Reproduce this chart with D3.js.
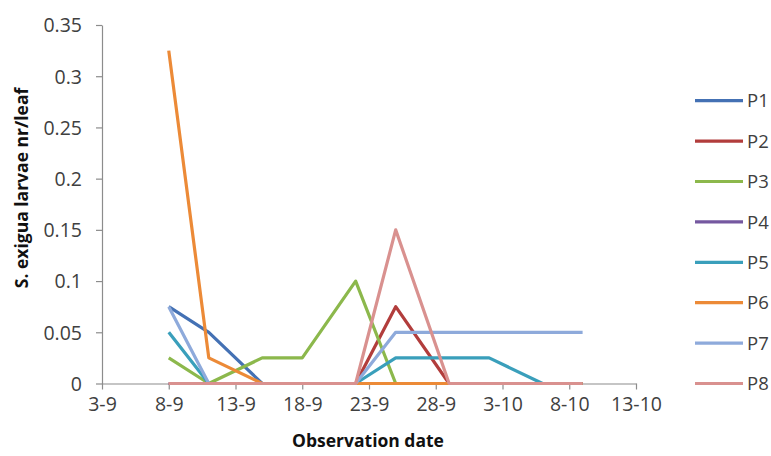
<!DOCTYPE html>
<html>
<head>
<meta charset="utf-8">
<script src="https://cdn.jsdelivr.net/npm/d3@7"></script>
<style>
  body { margin: 0; background: #fff; }
  svg { font-family: 'Open Sans', sans-serif; }
</style>
</head>
<body>
<svg id="chart" width="771" height="456"></svg>
<script>
// observation dates (day-month, 2013 season)
const obsDates = ['8-9', '11-9', '15-9', '18-9', '22-9', '25-9', '29-9', '2-10', '6-10', '9-10']
const tickLabels = ['3-9', '8-9', '13-9', '18-9', '23-9', '28-9', '3-10', '8-10', '13-10']
const yTicks = [0, 0.05, 0.1, 0.15, 0.2, 0.25, 0.3, 0.35]

const seriesNames = ['P1', 'P2', 'P3', 'P4', 'P5', 'P6', 'P7', 'P8']
const p1 = [0.075, 0.05, 0, 0, 0, 0, 0, 0, 0, 0]
const p2 = [0, 0, 0, 0, 0, 0.075, 0, 0, 0, 0]
const p3 = [0.025, 0, 0.025, 0.025, 0.1, 0, 0, 0, 0, 0]
const p4 = [0, 0, 0, 0, 0, 0, 0, 0, 0, 0]
const p5 = [0.05, 0, 0, 0, 0, 0.025, 0.025, 0.025, 0, 0]
const p6 = [0.325, 0.025, 0, 0, 0, 0, 0, 0, 0, 0]
const p7 = [0.075, 0, 0, 0, 0, 0.05, 0.05, 0.05, 0.05, 0.05]
const p8 = [0, 0, 0, 0, 0, 0.15, 0, 0, 0, 0]
const colors = ['#4471b4', '#b23d3c', '#8cb84c', '#7558a0', '#3a9fbb', '#ec8a37', '#8eaadb', '#d9918f']

const seriesValues = [p1, p2, p3, p4, p5, p6, p7, p8]

const parseDate = s => {
  const [d, m] = s.split('-').map(Number)
  return new Date(2013, m - 1, d)
}

const svg = d3.select('#chart')
const margin = { left: 102, right: 135, top: 25, bottom: 72 }
const width = 636 - margin.left
const height = 383.5 - margin.top

const g = svg.append('g').attr('transform', `translate(${margin.left},${margin.top})`)

const xScale = d3.scaleTime()
  .domain([parseDate('3-9'), parseDate('13-10')])
  .range([0, width])

const yScale = d3.scaleLinear()
  .domain([0, 0.35])
  .range([height, 0])

// axes
const xAxis = g.append('g')
  .attr('transform', `translate(0,${height})`)
  .call(d3.axisBottom(xScale)
    .tickValues(tickLabels.map(parseDate))
    .tickFormat((d, i) => tickLabels[i])
    .tickSize(6)
    .tickSizeOuter(0))

const yAxis = g.append('g')
  .call(d3.axisLeft(yScale)
    .tickValues(yTicks)
    .tickFormat(d => d === 0 ? '0' : String(+d.toFixed(2)))
    .tickSize(6)
    .tickSizeOuter(0))

for (const ax of [xAxis, yAxis]) {
  ax.select('.domain').attr('stroke', '#8c8c8c').attr('stroke-width', 1.2)
  ax.selectAll('.tick line').attr('stroke', '#8c8c8c').attr('stroke-width', 1.2)
  ax.selectAll('.tick text')
    .attr('fill', '#404040')
    .style('font-size', '19.5px')
    .style('font-family', "'Open Sans', sans-serif")
}
xAxis.selectAll('.tick text').attr('y', 14).attr('dy', '0.71em')
yAxis.selectAll('.tick text').attr('x', -20).attr('dy', '0.35em')

// lines
const line = d3.line()
  .x((d, i) => xScale(parseDate(obsDates[i])))
  .y(d => yScale(d))

g.selectAll('.series')
  .data(seriesValues)
  .join('path')
  .attr('class', 'series')
  .attr('fill', 'none')
  .attr('stroke', (d, i) => colors[i])
  .attr('stroke-width', 3.2)
  .attr('stroke-linejoin', 'round')
  .attr('d', line)

// axis titles
svg.append('text')
  .attr('x', 368)
  .attr('y', 447)
  .attr('text-anchor', 'middle')
  .attr('fill', '#111')
  .style('font-size', '17.5px')
  .style('font-weight', 'bold')
  .text('Observation date')

svg.append('text')
  .attr('transform', 'translate(28,188) rotate(-90)')
  .attr('text-anchor', 'middle')
  .attr('fill', '#111')
  .style('font-size', '17.5px')
  .style('font-weight', 'bold')
  .text('S. exigua larvae nr/leaf')

// legend
const legend = svg.append('g')
  .selectAll('g')
  .data(seriesNames)
  .join('g')
  .attr('transform', (d, i) => `translate(695,${100.7 + i * 40.4})`)

legend.append('line')
  .attr('x1', 0)
  .attr('x2', 48)
  .attr('stroke', (d, i) => colors[i])
  .attr('stroke-width', 3.2)

legend.append('text')
  .attr('x', 52)
  .attr('dy', '0.36em')
  .attr('fill', '#404040')
  .style('font-size', '18.5px')
  .text(d => d)
</script>
</body>
</html>
